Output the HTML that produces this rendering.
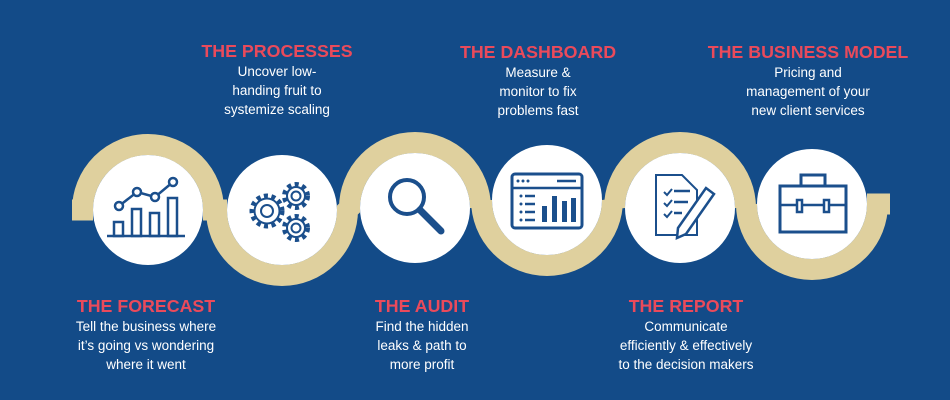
<!DOCTYPE html>
<html><head><meta charset="utf-8"><style>
body{margin:0;width:950px;height:400px;background:#134b88;position:relative;overflow:hidden;font-family:"Liberation Sans",sans-serif}
.t{position:absolute;width:240px;text-align:center;color:#fff}
.t b{display:block;color:#ea4a5b;font-size:17.8px;line-height:22px;margin-bottom:0px}
.t span{display:block;font-size:13.5px;line-height:19px}
</style></head><body>
<svg width="950" height="400" style="position:absolute;left:0;top:0">
<g fill="none" stroke="#dfd09e" stroke-width="21">
<path d="M72 210 H82.5 A65.5 65.5 0 0 1 213.5 210 L216.5 210 A65.5 65.5 0 0 0 347.5 210 L349.5 208 A65.5 65.5 0 0 1 480.5 208 L481.5 200 A65.5 65.5 0 0 0 612.5 200 L614.5 208 A65.5 65.5 0 0 1 745.5 208 L746.5 204 A65.5 65.5 0 0 0 877.5 204 H890"/>
</g>
<g fill="#fff">
<circle cx="148" cy="210" r="55"/><circle cx="282" cy="210" r="55"/><circle cx="415" cy="208" r="55"/>
<circle cx="547" cy="200" r="55"/><circle cx="680" cy="208" r="55"/><circle cx="812" cy="204" r="55"/>
</g>
<g fill="none" stroke="#1b4f8c" stroke-width="2.5">
<line x1="107" y1="236" x2="185" y2="236"/>
<rect x="114" y="222" width="9" height="14"/><rect x="132" y="209" width="9" height="27"/><rect x="150" y="213" width="9" height="23"/><rect x="168" y="198" width="9" height="38"/>
<polyline points="119,206 137,192 155,197 173,182"/>
<g fill="#fff"><circle cx="119" cy="206" r="4"/><circle cx="137" cy="192" r="4"/><circle cx="155" cy="197" r="4"/><circle cx="173" cy="182" r="4"/></g>
<g stroke-width="5" stroke-dasharray="4 3.5"><circle cx="267" cy="211" r="15"/><circle cx="296" cy="196" r="11.5"/><circle cx="296" cy="228" r="11.5"/></g>
<g fill="#fff" stroke-width="2"><circle cx="267" cy="211" r="12.5"/><circle cx="296" cy="196" r="9"/><circle cx="296" cy="228" r="9"/></g>
<g stroke-width="2"><circle cx="267" cy="211" r="6"/><circle cx="296" cy="196" r="4.5"/><circle cx="296" cy="228" r="4.5"/></g>
<circle cx="407" cy="197" r="17" stroke-width="4"/>
<line x1="420" y1="210" x2="441" y2="231" stroke-width="7" stroke-linecap="round"/>
<rect x="512" y="174" width="70" height="54" rx="3" stroke-width="3"/>
<line x1="512" y1="188" x2="582" y2="188"/>
<line x1="557" y1="181" x2="576" y2="181"/>
<g fill="#1b4f8c" stroke="none"><circle cx="518" cy="181" r="1.5"/><circle cx="523" cy="181" r="1.5"/><circle cx="528" cy="181" r="1.5"/>
<rect x="542" y="206" width="5" height="16"/><rect x="552" y="196" width="5" height="26"/><rect x="562" y="201" width="5" height="21"/><rect x="571" y="198" width="5" height="24"/>
<circle cx="521" cy="196" r="1.5"/><circle cx="521" cy="204" r="1.5"/><circle cx="521" cy="212" r="1.5"/><circle cx="521" cy="220" r="1.5"/></g>
<line x1="525" y1="196" x2="535" y2="196"/><line x1="525" y1="204" x2="535" y2="204"/><line x1="525" y1="212" x2="535" y2="212"/><line x1="525" y1="220" x2="535" y2="220"/>
<path d="M656 175 H682 L697 190 V235 H656 Z" stroke-width="2"/>
<path d="M664 192 l3 3 5-6 M664 203 l3 3 5-6 M664 214 l3 3 5-6" stroke-width="2"/>
<line x1="674" y1="191" x2="690" y2="191"/><line x1="674" y1="202" x2="688" y2="202"/><line x1="674" y1="213" x2="682" y2="213"/>
<path d="M678 228 L706 188 L714 194 L686 234 L677 238 Z" fill="#fff" stroke-width="2.5"/>
<rect x="780" y="186" width="66" height="46" stroke-width="3"/>
<rect x="801" y="175" width="24" height="11" stroke-width="3"/>
<line x1="780" y1="205" x2="846" y2="205"/>
<rect x="797" y="200" width="5" height="12" fill="#fff"/><rect x="824" y="200" width="5" height="12" fill="#fff"/>
</g>
</svg>
<div class="t" style="left:157px;top:40px"><b>THE PROCESSES</b><span>Uncover low-</span><span>handing fruit to</span><span>systemize scaling</span></div>
<div class="t" style="left:418px;top:41px"><b>THE DASHBOARD</b><span>Measure &amp;</span><span>monitor to fix</span><span>problems fast</span></div>
<div class="t" style="left:688px;top:41px"><b>THE BUSINESS MODEL</b><span>Pricing and</span><span>management of your</span><span>new client services</span></div>
<div class="t" style="left:26px;top:295px"><b>THE FORECAST</b><span>Tell the business where</span><span>it’s going vs wondering</span><span>where it went</span></div>
<div class="t" style="left:302px;top:295px"><b>THE AUDIT</b><span>Find the hidden</span><span>leaks &amp; path to</span><span>more profit</span></div>
<div class="t" style="left:566px;top:295px"><b>THE REPORT</b><span>Communicate</span><span>efficiently &amp; effectively</span><span>to the decision makers</span></div>
</body></html>
